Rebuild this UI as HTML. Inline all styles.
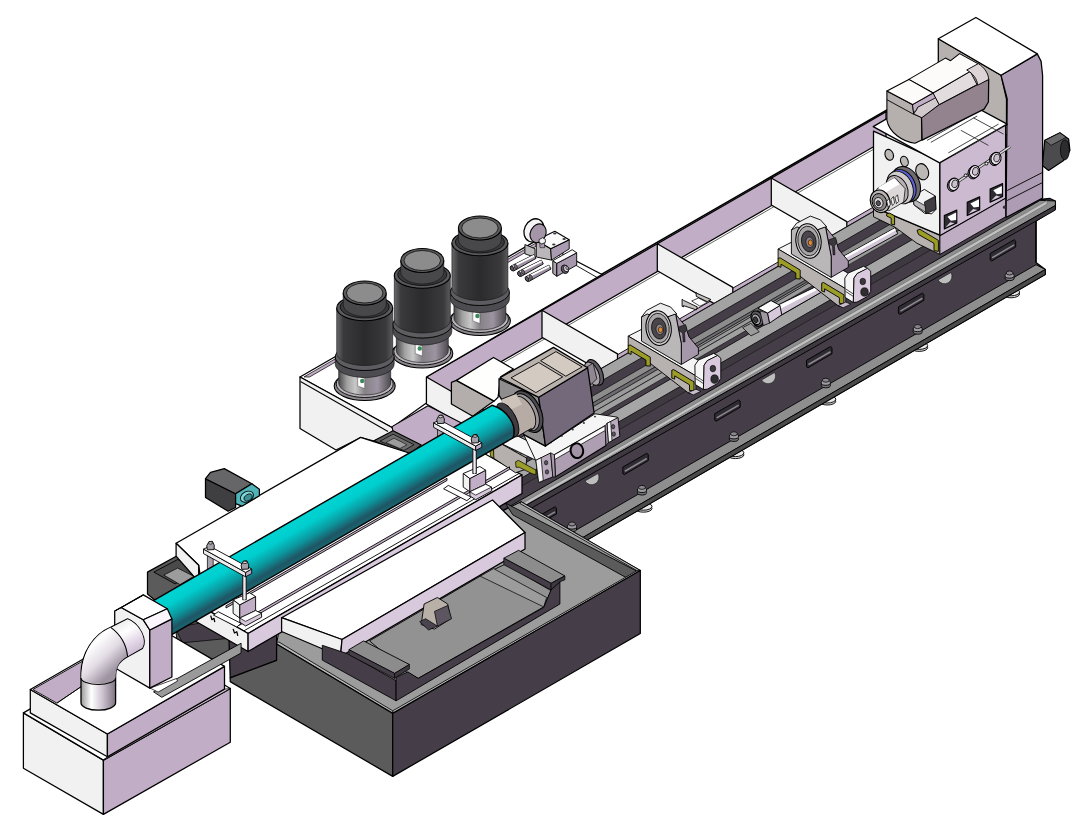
<!DOCTYPE html>
<html><head><meta charset="utf-8"><title></title>
<style>html,body{margin:0;padding:0;background:#fff;overflow:hidden}svg{display:block}</style></head>
<body><svg width="1084" height="830" viewBox="0 0 1084 830" stroke-linejoin="round">
<defs>
<linearGradient id="teal" gradientUnits="userSpaceOnUse" x1="300" y1="516.1" x2="319.3" y2="549.5">
<stop offset="0" stop-color="#00d3d3"/><stop offset="0.28" stop-color="#00cece"/><stop offset="0.6" stop-color="#0b979e"/><stop offset="0.86" stop-color="#1f5564"/><stop offset="1" stop-color="#176872"/></linearGradient>
<linearGradient id="mbody" x1="0" y1="0" x2="1" y2="0">
<stop offset="0" stop-color="#6a696c"/><stop offset="0.12" stop-color="#3a393c"/><stop offset="0.5" stop-color="#2b2a2d"/><stop offset="0.88" stop-color="#3a393c"/><stop offset="1" stop-color="#5c5b5e"/></linearGradient>
<linearGradient id="mbell" x1="0" y1="0" x2="1" y2="0">
<stop offset="0" stop-color="#4a4a4c"/><stop offset="0.16" stop-color="#a0a0a0"/><stop offset="0.32" stop-color="#c8c8c8"/><stop offset="0.5" stop-color="#858187"/><stop offset="0.75" stop-color="#9d94a1"/><stop offset="1" stop-color="#4d4a50"/></linearGradient>
<linearGradient id="pipe" x1="0" y1="0" x2="1" y2="0">
<stop offset="0" stop-color="#9a9a9a"/><stop offset="0.3" stop-color="#ffffff"/><stop offset="0.62" stop-color="#cdc3d0"/><stop offset="1" stop-color="#7d7382"/></linearGradient>
<linearGradient id="pipeV" gradientUnits="userSpaceOnUse" x1="81.0" y1="0" x2="115.6" y2="0">
<stop offset="0" stop-color="#9a9a9a"/><stop offset="0.3" stop-color="#ffffff"/><stop offset="0.62" stop-color="#cdc3d0"/><stop offset="1" stop-color="#7d7382"/></linearGradient>
<linearGradient id="pipeE" gradientUnits="userSpaceOnUse" x1="86.1" y1="630.9" x2="119.3" y2="665.9">
<stop offset="0" stop-color="#b5b5b5"/><stop offset="0.3" stop-color="#ffffff"/><stop offset="0.65" stop-color="#e2dbe4"/><stop offset="1" stop-color="#9d93a1"/></linearGradient>
<linearGradient id="pipeH" gradientUnits="userSpaceOnUse" x1="121.2" y1="622.6" x2="137.8" y2="651.2">
<stop offset="0" stop-color="#eeeeee"/><stop offset="0.3" stop-color="#ffffff"/><stop offset="0.7" stop-color="#e3d6e7"/><stop offset="1" stop-color="#cdbcd2"/></linearGradient>
</defs>
<polygon points="426.4,377.0 900.0,103.8 900.0,195.7 501.0,421.9" fill="#ffffff"  />
<polygon points="426.4,377.0 900.0,103.8 900.0,131.5 446.4,393.2" fill="#c1adc5" stroke="#000" stroke-width="1.26" />
<polyline points="425.4,375.8 900.0,102.5" fill="none" stroke="#000" stroke-width="1.62" />
<polyline points="466.4,384.1 900.0,134.0" fill="none" stroke="#555" stroke-width="0.9" />
<polygon points="501.0,421.9 900.0,191.7 900.0,197.1 501.0,427.3" fill="#c1adc5" stroke="#000" stroke-width="0.9" />
<polygon points="542.0,310.3 617.5,353.9 617.5,380.9 542.0,337.3" fill="#f1f1f1" stroke="#000" stroke-width="1.26" />
<polygon points="657.3,243.8 732.8,287.4 732.8,314.4 657.3,270.8" fill="#f1f1f1" stroke="#000" stroke-width="1.26" />
<polygon points="771.3,178.0 846.8,221.6 846.8,248.6 771.3,205.0" fill="#f1f1f1" stroke="#000" stroke-width="1.26" />
<polygon points="886.0,111.8 961.5,155.4 961.5,182.4 886.0,138.8" fill="#f1f1f1" stroke="#000" stroke-width="1.26" />
<polygon points="426.4,377.0 501.4,420.3 501.4,447.3 426.4,404.0" fill="#f1f1f1" stroke="#000" stroke-width="1.26" />
<polygon points="691.7,301.0 698.4,298.0 707.2,302.5 699.9,306.2" fill="#ffffff" stroke="#000" stroke-width="0.72" />
<polygon points="682.1,299.2 683.6,300.4 697.3,306.9 696.3,309.9 683.5,305.6 683.5,306.9 682.1,306.3" fill="#c4c0be" stroke="#000" stroke-width="0.9" />
<polygon points="696.0,292.5 697.3,293.5 710.9,299.5 707.2,301.7 696.3,296.4" fill="#c4c0be" stroke="#000" stroke-width="0.9" />
<polygon points="300.0,377.0 536.7,240.4 602.0,274.5 426.4,377.0 426.4,403.0 392.0,427.5" fill="#ffffff" stroke="#000" stroke-width="1.26" />
<polygon points="304.0,376.9 536.0,243.0 536.0,246.3 309.5,377.0" fill="#c1adc5" stroke="#000" stroke-width="0.72" />
<polyline points="538.0,243.5 598.0,278.0" fill="none" stroke="#000" stroke-width="0.9" />
<polygon points="300.0,377.0 392.0,427.5 394.0,432.0 374.0,441.0 361.0,437.5 336.0,450.0 300.0,428.5" fill="#f1f1f1" stroke="#000" stroke-width="1.26" />
<polyline points="300.5,381.5 388.0,431.5" fill="none" stroke="#000" stroke-width="1.08" />
<polygon points="392.0,426.6 428.0,405.8 475.0,430.0 421.3,447.0 393.0,431.0" fill="#c1adc5" stroke="#000" stroke-width="1.08" />
<polygon points="373.9,440.7 393.0,430.7 421.3,444.9 408.8,455.0" fill="#5b5b5b" stroke="#000" stroke-width="1.08" />
<polygon points="380.0,441.2 393.0,434.2 414.0,444.7 404.0,450.5" fill="#6f6f6f" stroke="#000" stroke-width="0.72" />
<polygon points="386.0,442.5 394.0,438.2 407.0,444.7 400.0,448.5" fill="#9c9c9c" stroke="#000" stroke-width="0.54" />
<ellipse cx="1011.1" cy="294.0" rx="8.5" ry="3.8" fill="#cfcfcf" stroke="#000" stroke-width="0.9" />
<ellipse cx="1011.1" cy="292.0" rx="8.5" ry="3.8" fill="#e9e9e9" stroke="#000" stroke-width="0.9" />
<ellipse cx="919.2" cy="347.6" rx="8.5" ry="3.8" fill="#cfcfcf" stroke="#000" stroke-width="0.9" />
<ellipse cx="919.2" cy="345.6" rx="8.5" ry="3.8" fill="#e9e9e9" stroke="#000" stroke-width="0.9" />
<ellipse cx="827.3" cy="401.2" rx="8.5" ry="3.8" fill="#cfcfcf" stroke="#000" stroke-width="0.9" />
<ellipse cx="827.3" cy="399.2" rx="8.5" ry="3.8" fill="#e9e9e9" stroke="#000" stroke-width="0.9" />
<ellipse cx="735.4" cy="454.8" rx="8.5" ry="3.8" fill="#cfcfcf" stroke="#000" stroke-width="0.9" />
<ellipse cx="735.4" cy="452.8" rx="8.5" ry="3.8" fill="#e9e9e9" stroke="#000" stroke-width="0.9" />
<ellipse cx="643.5" cy="508.4" rx="8.5" ry="3.8" fill="#cfcfcf" stroke="#000" stroke-width="0.9" />
<ellipse cx="643.5" cy="506.4" rx="8.5" ry="3.8" fill="#e9e9e9" stroke="#000" stroke-width="0.9" />
<ellipse cx="573.5" cy="545.0" rx="8.5" ry="3.8" fill="#cfcfcf" stroke="#000" stroke-width="0.9" />
<ellipse cx="573.5" cy="543.0" rx="8.5" ry="3.8" fill="#e9e9e9" stroke="#000" stroke-width="0.9" />
<polygon points="500.0,427.0 1010.0,132.7 1040.0,199.5 1050.0,198.5 1055.4,201.0 1055.4,209.0 1036.0,221.0 1036.0,262.5 1045.3,269.5 1045.3,274.5 500.0,590.5" fill="#453e48" stroke="#000" stroke-width="1.26" />
<polygon points="500.0,427.0 1010.0,132.7 1010.0,145.2 500.0,439.5" fill="#a3a3a3" stroke="#111" stroke-width="0.9" />
<polygon points="500.0,449.5 1010.0,155.2 1010.0,162.2 500.0,456.5" fill="#8c8c8c" stroke="#111" stroke-width="0.72" />
<polygon points="500.0,456.5 1010.0,162.2 1010.0,166.2 500.0,460.5" fill="#6d6a70" stroke="#111" stroke-width="0.54" />
<polygon points="500.0,460.5 1010.0,166.2 1010.0,171.7 500.0,466.0" fill="#9a9a9a" stroke="#111" stroke-width="0.54" />
<polygon points="500.0,466.0 760.0,316.0 760.0,322.5 500.0,472.5" fill="#a0a0a0" stroke="#111" stroke-width="0.72" />
<polygon points="500.0,477.5 1020.0,177.5 1020.0,190.5 500.0,490.5" fill="#a6a6a6" stroke="#111" stroke-width="0.9" />
<polygon points="500.0,490.5 1020.0,190.5 1020.0,198.5 500.0,498.5" fill="#3e3841" stroke="#111" stroke-width="0.54" />
<polygon points="500.0,512.0 1040.0,200.4 1055.4,201.0 1055.4,205.5 500.0,520.0" fill="#8e8e8e" stroke="#000" stroke-width="0.9" />
<polygon points="500.0,516.3 1047.0,200.7 1047.0,204.1 500.0,519.7" fill="#c2c2c2" stroke="#666" stroke-width="0.54" />
<polygon points="500.0,520.0 1055.4,205.5 1055.4,210.0 500.0,526.0" fill="#3e3841" stroke="#000" stroke-width="0.9" />
<polygon points="500.0,574.0 1036.0,264.7 1045.3,269.5 500.0,585.5" fill="#8e8e8e" stroke="#000" stroke-width="0.9" />
<polygon points="500.0,585.5 1045.3,269.5 1045.3,274.5 500.0,590.5" fill="#4a4a4a" stroke="#000" stroke-width="0.9" />
<polyline points="1036.0,221.0 1036.0,262.5" fill="none" stroke="#000" stroke-width="1.26" />
<polygon points="990.2,253.5 1014.2,239.7 1015.7,241.0 1015.7,247.0 991.7,261.0 990.2,260.0" fill="#2f2b32" stroke="#000" stroke-width="0.9" />
<polyline points="992.2,257.7 1014.2,244.9" fill="none" stroke="#8a8590" stroke-width="1.62" />
<polygon points="898.4,306.9 922.4,293.1 923.9,294.4 923.9,300.4 899.9,314.4 898.4,313.4" fill="#2f2b32" stroke="#000" stroke-width="0.9" />
<polyline points="900.4,311.1 922.4,298.3" fill="none" stroke="#8a8590" stroke-width="1.62" />
<polygon points="806.5,360.3 830.5,346.5 832.0,347.8 832.0,353.8 808.0,367.8 806.5,366.8" fill="#2f2b32" stroke="#000" stroke-width="0.9" />
<polyline points="808.5,364.5 830.5,351.7" fill="none" stroke="#8a8590" stroke-width="1.62" />
<polygon points="714.7,413.7 738.7,399.9 740.2,401.2 740.2,407.2 716.2,421.2 714.7,420.2" fill="#2f2b32" stroke="#000" stroke-width="0.9" />
<polyline points="716.7,417.9 738.7,405.1" fill="none" stroke="#8a8590" stroke-width="1.62" />
<polygon points="622.8,467.1 646.8,453.3 648.3,454.6 648.3,460.6 624.3,474.6 622.8,473.6" fill="#2f2b32" stroke="#000" stroke-width="0.9" />
<polyline points="624.8,471.3 646.8,458.5" fill="none" stroke="#8a8590" stroke-width="1.62" />
<polygon points="531.0,520.5 555.0,506.7 556.5,508.0 556.5,514.0 532.5,528.0 531.0,527.0" fill="#2f2b32" stroke="#000" stroke-width="0.9" />
<polyline points="533.0,524.7 555.0,511.9" fill="none" stroke="#8a8590" stroke-width="1.62" />
<ellipse cx="1009.6" cy="278.0" rx="4.6" ry="2.6" fill="#77737a" stroke="#000" stroke-width="0.9" />
<ellipse cx="1009.6" cy="275.5" rx="4.6" ry="2.6" fill="#a09ca3" stroke="#000" stroke-width="0.9" />
<ellipse cx="1009.6" cy="273.0" rx="3.4" ry="2.0" fill="#8a868d" stroke="#000" stroke-width="0.72" />
<ellipse cx="917.7" cy="331.6" rx="4.6" ry="2.6" fill="#77737a" stroke="#000" stroke-width="0.9" />
<ellipse cx="917.7" cy="329.1" rx="4.6" ry="2.6" fill="#a09ca3" stroke="#000" stroke-width="0.9" />
<ellipse cx="917.7" cy="326.6" rx="3.4" ry="2.0" fill="#8a868d" stroke="#000" stroke-width="0.72" />
<ellipse cx="825.8" cy="385.2" rx="4.6" ry="2.6" fill="#77737a" stroke="#000" stroke-width="0.9" />
<ellipse cx="825.8" cy="382.7" rx="4.6" ry="2.6" fill="#a09ca3" stroke="#000" stroke-width="0.9" />
<ellipse cx="825.8" cy="380.2" rx="3.4" ry="2.0" fill="#8a868d" stroke="#000" stroke-width="0.72" />
<ellipse cx="733.9" cy="438.8" rx="4.6" ry="2.6" fill="#77737a" stroke="#000" stroke-width="0.9" />
<ellipse cx="733.9" cy="436.3" rx="4.6" ry="2.6" fill="#a09ca3" stroke="#000" stroke-width="0.9" />
<ellipse cx="733.9" cy="433.8" rx="3.4" ry="2.0" fill="#8a868d" stroke="#000" stroke-width="0.72" />
<ellipse cx="642.0" cy="492.4" rx="4.6" ry="2.6" fill="#77737a" stroke="#000" stroke-width="0.9" />
<ellipse cx="642.0" cy="489.9" rx="4.6" ry="2.6" fill="#a09ca3" stroke="#000" stroke-width="0.9" />
<ellipse cx="642.0" cy="487.4" rx="3.4" ry="2.0" fill="#8a868d" stroke="#000" stroke-width="0.72" />
<ellipse cx="572.0" cy="529.0" rx="4.6" ry="2.6" fill="#77737a" stroke="#000" stroke-width="0.9" />
<ellipse cx="572.0" cy="526.5" rx="4.6" ry="2.6" fill="#a09ca3" stroke="#000" stroke-width="0.9" />
<ellipse cx="572.0" cy="524.0" rx="3.4" ry="2.0" fill="#8a868d" stroke="#000" stroke-width="0.72" />
<path d="M938.0,280.0 a7,7 0 0 0 13,-7.5 z" fill="#bdbdbd" stroke="#000" stroke-width="0.5"/>
<path d="M761.6,380.0 a7,7 0 0 0 13,-7.5 z" fill="#bdbdbd" stroke="#000" stroke-width="0.5"/>
<path d="M585.0,481.0 a7,7 0 0 0 13,-7.5 z" fill="#bdbdbd" stroke="#000" stroke-width="0.5"/>
<polygon points="147.5,572.1 177.6,555.5 205.2,570.1 205.2,590.1 155.0,600.2 147.5,593.9" fill="#5b5b5b" stroke="#000" stroke-width="1.26" />
<polygon points="153.8,572.1 177.6,559.5 198.9,570.6 175.1,583.9" fill="#4a4a4a" stroke="#000" stroke-width="0.9" />
<polygon points="163.8,575.1 177.6,568.1 193.9,576.3 180.1,584.6" fill="#9c9c9c" stroke="#000" stroke-width="0.72" />
<polygon points="175.1,625.2 222.7,615.2 240.3,622.7 240.3,645.3 200.2,665.3 177.6,645.3" fill="#5b5b5b" stroke="#000" stroke-width="0.9" />
<polygon points="175.1,627.7 215.2,620.2 230.2,638.2 182.6,642.8" fill="#453e48" stroke="#000" stroke-width="0.72" />
<polygon points="229.0,640.3 276.6,635.2 276.6,660.3 230.2,677.8" fill="#453e48" stroke="#000" stroke-width="1.26" />
<polygon points="276.6,644.0 280.4,622.7 521.0,501.7 640.3,570.5 392.7,713.4" fill="#9c9c9c" stroke="#000" stroke-width="1.08" />
<polygon points="505.3,503.0 638.7,572.1 625.8,577.4 512.7,514.8" fill="#5b5b5b" stroke="#000" stroke-width="0.9" />
<polygon points="392.7,713.4 640.3,570.5 637.1,570.7 392.7,710.8" fill="#b9b9b9" stroke="#000" stroke-width="0.81" />
<polygon points="276.6,644.0 392.7,713.4 392.7,710.8 278.6,641.8" fill="#b9b9b9" stroke="#000" stroke-width="0.81" />
<polygon points="521.0,501.7 640.3,570.5 637.1,570.7 520.0,503.5" fill="#b9b9b9" stroke="#000" stroke-width="0.81" />
<polygon points="276.6,644.0 392.7,713.4 392.7,776.4 230.2,681.6 230.2,677.8 276.6,660.3" fill="#5b5b5b" stroke="#000" stroke-width="1.26" />
<polygon points="392.7,713.4 640.3,570.5 640.3,633.5 392.7,776.4" fill="#453e48" stroke="#000" stroke-width="1.26" />
<polygon points="1044.8,140.4 1059.9,132.8 1068.6,139.1 1069.9,150.4 1063.6,160.4 1048.6,170.4 1042.3,165.4" fill="#4b4b4d" stroke="#000" stroke-width="1.26" />
<polygon points="1044.8,140.4 1059.9,132.8 1066.1,137.3 1051.1,145.4" fill="#6a6a6c" stroke="#000" stroke-width="0.72" />
<ellipse cx="1064.9" cy="149.9" rx="4.5" ry="10.0" fill="#2c2c2e" stroke="#000" stroke-width="0.72" />
<polygon points="938.3,38.8 1001.0,75.2 1006.5,99.0 1006.5,125.3 973.4,110.3 938.3,75.2" fill="#b6b1af" stroke="#000" stroke-width="1.26" />
<polygon points="1001.0,75.2 1037.3,53.9 1041.1,61.4 1042.6,75.2 1042.6,198.0 1006.0,217.5 1007.2,99.0" fill="#ae9bb4" stroke="#000" stroke-width="1.26" />
<polyline points="1007.2,190.5 1042.6,172.4" fill="none" stroke="#000" stroke-width="0.9" />
<polyline points="1007.2,200.5 1042.6,182.5" fill="none" stroke="#000" stroke-width="0.9" />
<polygon points="938.3,38.8 975.9,17.5 1037.3,53.9 1001.0,75.2" fill="#ffffff" stroke="#000" stroke-width="1.26" />
<polygon points="873.5,207.2 939.9,235.2 939.9,254.4 917.0,243.3 894.9,227.1 873.5,216.8" fill="#b7b2b0" stroke="#000" stroke-width="0.9" />
<polygon points="873.5,131.1 939.9,161.4 939.9,235.2 873.5,207.2" fill="#f1f1f1" stroke="#000" stroke-width="1.26" />
<polygon points="939.9,161.4 1005.6,123.5 1005.6,198.3 939.9,235.9" fill="#cbbad0" stroke="#000" stroke-width="1.26" />
<polygon points="939.9,235.9 1005.6,198.3 1005.6,216.8 939.9,254.4" fill="#bfadc4" stroke="#000" stroke-width="0.9" />
<polygon points="873.2,126.6 939.6,87.7 1007.2,124.1 939.6,162.9" fill="#ffffff" stroke="#000" stroke-width="1.26" />
<polyline points="927.0,140.4 973.4,114.0" fill="none" stroke="#333" stroke-width="0.9" />
<polyline points="930.8,142.4 977.2,116.0" fill="none" stroke="#333" stroke-width="0.9" />
<polyline points="948.3,152.9 998.5,124.1" fill="none" stroke="#333" stroke-width="0.9" />
<polyline points="953.4,155.4 1002.2,127.3" fill="none" stroke="#333" stroke-width="0.9" />
<polyline points="960.9,130.3 988.4,145.4" fill="none" stroke="#333" stroke-width="0.9" />
<polyline points="973.4,117.8 1003.5,134.1" fill="none" stroke="#333" stroke-width="0.9" />
<ellipse cx="889.2" cy="154.8" rx="4.1" ry="5.6" fill="#bcb8b6" stroke="#000" stroke-width="1.08" transform="rotate(-20 889.2 154.8)" />
<ellipse cx="904.4" cy="161.4" rx="3.7" ry="5.2" fill="#bcb8b6" stroke="#000" stroke-width="1.08" transform="rotate(-20 904.4 161.4)" />
<ellipse cx="922.2" cy="171.7" rx="6.2" ry="8.3" fill="#bcb8b6" stroke="#000" stroke-width="1.08" transform="rotate(-20 922.2 171.7)" />
<polyline points="953.9,184.3 1010.0,146.6" fill="none" stroke="#222" stroke-width="2.88" />
<polyline points="953.9,184.3 1010.0,146.6" fill="none" stroke="#ddd" stroke-width="1.44" />
<ellipse cx="952.7" cy="185.0" rx="5.3" ry="6.5" fill="#8d8391" stroke="#000" stroke-width="0.9" transform="rotate(15 952.7 185.0)" />
<ellipse cx="953.9" cy="184.3" rx="5.0" ry="6.2" fill="#ece6ee" stroke="#000" stroke-width="1.08" transform="rotate(15 953.9 184.3)" />
<ellipse cx="954.8" cy="183.8" rx="3.0" ry="4.0" fill="#cbbfd0" stroke="#000" stroke-width="0.72" transform="rotate(15 954.8 183.8)" />
<ellipse cx="973.4" cy="172.5" rx="5.3" ry="6.5" fill="#8d8391" stroke="#000" stroke-width="0.9" transform="rotate(15 973.4 172.5)" />
<ellipse cx="974.6" cy="171.7" rx="5.0" ry="6.2" fill="#ece6ee" stroke="#000" stroke-width="1.08" transform="rotate(15 974.6 171.7)" />
<ellipse cx="975.4" cy="171.3" rx="3.0" ry="4.0" fill="#cbbfd0" stroke="#000" stroke-width="0.72" transform="rotate(15 975.4 171.3)" />
<ellipse cx="994.8" cy="159.2" rx="5.3" ry="6.5" fill="#8d8391" stroke="#000" stroke-width="0.9" transform="rotate(15 994.8 159.2)" />
<ellipse cx="996.0" cy="158.5" rx="5.0" ry="6.2" fill="#ece6ee" stroke="#000" stroke-width="1.08" transform="rotate(15 996.0 158.5)" />
<ellipse cx="996.8" cy="158.0" rx="3.0" ry="4.0" fill="#cbbfd0" stroke="#000" stroke-width="0.72" transform="rotate(15 996.8 158.0)" />
<ellipse cx="965.7" cy="175.4" rx="1.5" ry="1.5" fill="#eee" stroke="#000" stroke-width="0.9" />
<ellipse cx="986.4" cy="163.6" rx="1.5" ry="1.5" fill="#eee" stroke="#000" stroke-width="0.9" />
<polygon points="944.3,215.6 956.8,210.0 956.8,223.0 944.3,228.9" fill="#2e2b31" stroke="#000" stroke-width="1.08" />
<polygon points="947.5,216.8 956.1,212.6 956.1,220.0 950.9,220.7" fill="#ffffff"  />
<polygon points="945.5,227.4 950.2,222.2 954.6,223.2" fill="#d8cadc"  />
<polygon points="967.2,202.3 979.7,196.7 979.7,209.7 967.2,215.6" fill="#2e2b31" stroke="#000" stroke-width="1.08" />
<polygon points="970.4,203.5 979.0,199.3 979.0,206.7 973.8,207.5" fill="#ffffff"  />
<polygon points="968.4,214.1 973.1,208.9 977.5,210.0" fill="#d8cadc"  />
<polygon points="990.1,189.0 1002.6,183.4 1002.6,196.4 990.1,202.3" fill="#2e2b31" stroke="#000" stroke-width="1.08" />
<polygon points="993.3,190.2 1001.9,186.1 1001.9,193.4 996.7,194.2" fill="#ffffff"  />
<polygon points="991.2,200.8 996.0,195.6 1000.4,196.7" fill="#d8cadc"  />
<ellipse cx="1004.4" cy="207.2" rx="1.5" ry="1.6" fill="#2e2b31"  />
<polygon points="917.0,230.3 919.9,229.3 938.4,240.4 938.4,251.4 934.0,250.7 934.0,243.3 918.5,234.5" fill="#9c9c28" stroke="#000" stroke-width="0.9" />
<polygon points="886.7,213.8 889.7,213.1 894.6,216.0 894.6,224.9 891.2,224.1 891.2,218.2 886.7,216.0" fill="#9c9c28" stroke="#000" stroke-width="0.9" />
<polygon points="825.5,266.2 894.9,227.8 897.8,233.7 825.5,273.6" fill="#d2c7d6" stroke="#000" stroke-width="0.9" />
<polygon points="825.5,266.6 894.9,228.3 896.0,230.3 825.5,269.3" fill="#ffffff"  />
<polygon points="912.6,196.1 924.4,189.4 935.4,196.1 935.9,209.4 931.8,213.8 924.4,213.1 914.0,204.9" fill="#f2f2f2" stroke="#000" stroke-width="0.9" />
<polygon points="924.4,202.0 935.4,196.1 935.9,209.4 925.8,213.8" fill="#3f3c42" stroke="#000" stroke-width="0.72" />
<polygon points="913.3,199.0 925.1,205.7 925.8,212.3 914.0,204.9" fill="#b9b4b8" stroke="#000" stroke-width="0.72" />
<ellipse cx="905.9" cy="184.3" rx="13.6" ry="18.5" fill="#6f6a6e" stroke="#000" stroke-width="1.08" transform="rotate(-25 905.9 184.3)" />
<ellipse cx="902.5" cy="186.1" rx="12.7" ry="17.4" fill="#5d61d2" stroke="#000" stroke-width="0.9" transform="rotate(-25 902.5 186.1)" />
<ellipse cx="900.0" cy="187.5" rx="12.4" ry="17.1" fill="#cfcacc" stroke="#000" stroke-width="0.9" transform="rotate(-25 900.0 187.5)" />
<ellipse cx="897.1" cy="189.4" rx="10.3" ry="14.5" fill="#b6afb3" stroke="#000" stroke-width="0.9" transform="rotate(-25 897.1 189.4)" />
<polygon points="877.1,188.7 894.9,177.6 905.2,188.7 903.7,202.0 888.9,210.8 871.2,203.5" fill="#dcd8da" stroke="#000" stroke-width="0.72" />
<polygon points="878.6,187.2 894.1,178.1 899.3,184.3 883.0,193.9" fill="#ffffff"  />
<ellipse cx="880.1" cy="201.3" rx="9.7" ry="11.5" fill="#b9b4b2" stroke="#000" stroke-width="1.08" transform="rotate(-20 880.1 201.3)" />
<ellipse cx="879.4" cy="202.0" rx="7.1" ry="8.6" fill="#8e898c" stroke="#000" stroke-width="0.9" transform="rotate(-20 879.4 202.0)" />
<ellipse cx="878.6" cy="202.7" rx="4.4" ry="5.3" fill="#d5d0d2" stroke="#000" stroke-width="0.72" transform="rotate(-20 878.6 202.7)" />
<ellipse cx="878.3" cy="203.2" rx="2.1" ry="2.5" fill="#55505a" stroke="#000" stroke-width="0.72" transform="rotate(-20 878.3 203.2)" />
<polygon points="886.7,201.3 889.2,198.3 890.4,204.9 888.2,207.2" fill="#efefef" stroke="#000" stroke-width="0.72" />
<polygon points="890.9,199.5 893.4,196.5 894.6,203.2 892.3,205.4" fill="#efefef" stroke="#000" stroke-width="0.72" />
<polygon points="895.0,197.7 897.5,194.8 898.7,201.4 896.5,203.6" fill="#efefef" stroke="#000" stroke-width="0.72" />
<path d="M 886.9,91.0 L 886.9,120.1 C 889.2,133.0 903.4,142.0 915.0,143.3 L 921.8,140.1 L 921.8,117.5 L 913.7,113.9 L 912.5,104.6 Z" fill="#b5b0ae" stroke="#000" stroke-width="1.08" />
<polygon points="921.5,117.5 938.9,104.6 977.0,84.6 988.7,79.4 988.4,102.0 984.1,109.1 922.1,140.1" fill="#93838f" stroke="#000" stroke-width="1.26" />
<polygon points="913.7,113.9 916.6,109.7 917.6,107.2 935.7,97.5 939.2,104.6 921.8,117.7" fill="#d2c9cc" stroke="#000" stroke-width="0.9" />
<polygon points="913.7,112.3 912.5,104.6 933.1,93.0 935.7,97.7 917.6,107.2 916.1,110.4" fill="#bfaec4" stroke="#000" stroke-width="0.72" />
<polyline points="886.9,99.7 913.7,114.3" fill="none" stroke="#000" stroke-width="0.9" />
<polygon points="933.1,93.0 970.2,71.4 977.0,84.6 939.2,104.6" fill="#e3dcdf" stroke="#000" stroke-width="0.9" />
<polygon points="908.8,79.4 945.4,58.1 950.6,60.7 959.6,53.6 978.3,63.9 970.2,71.4 933.1,93.0" fill="#fcfbf9" stroke="#000" stroke-width="1.08" />
<polygon points="886.9,91.0 908.8,79.4 933.1,93.0 912.5,104.6" fill="#fcfbf9" stroke="#000" stroke-width="1.08" />
<path d="M 966.7,70.0 L 978.3,63.6 C 984.8,67.8 988.4,73.6 988.7,79.4 L 977.7,85.2 C 977.0,78.7 973.2,73.6 966.7,70.0 Z" fill="#ddd4d8" stroke="#000" stroke-width="0.9" />
<polygon points="176.1,543.3 360.6,437.4 409.0,453.0 480.0,451.0 522.0,475.0 248.1,633.5 205.0,608.6 198.7,565.3" fill="#ffffff" stroke="#000" stroke-width="1.26" />
<polygon points="176.1,543.3 198.7,565.3 198.7,582.0 176.1,556.2" fill="#f1f1f1" stroke="#000" stroke-width="1.26" />
<polygon points="205.0,608.6 248.1,633.5 248.1,651.5 196.0,621.5" fill="#f1f1f1" stroke="#000" stroke-width="1.26" />
<polygon points="248.1,633.5 248.1,651.5 522.0,493.5 522.0,475.0" fill="#d8c9dc" stroke="#000" stroke-width="1.26" />
<polygon points="281.6,617.7 492.5,500.0 525.0,532.5 342.0,639.5" fill="#ffffff" stroke="#000" stroke-width="1.26" />
<polygon points="281.6,617.7 281.6,631.5 340.5,656.5 342.0,639.5" fill="#f1f1f1" stroke="#000" stroke-width="1.26" />
<polygon points="342.0,639.5 340.5,656.5 525.0,549.0 525.0,532.5" fill="#d8c9dc" stroke="#000" stroke-width="1.26" />
<polygon points="322.3,645.3 348.9,654.2 396.1,680.7 396.1,700.8 322.3,660.1" fill="#453e48" stroke="#000" stroke-width="0.9" />
<polygon points="369.5,640.9 480.2,576.2 505.3,564.1 551.1,590.7 543.7,606.9 418.2,678.4 406.4,671.9" fill="#929292" stroke="#000" stroke-width="0.9" />
<polygon points="480.2,576.2 493.5,568.6 546.6,597.5 543.7,606.9" fill="#9c9c9c" stroke="#000" stroke-width="0.72" />
<polygon points="396.1,677.2 407.9,671.9 418.2,678.4 543.7,607.5 551.1,589.8 559.9,581.8 559.9,604.0 396.1,700.8" fill="#453e48" stroke="#000" stroke-width="0.9" />
<polygon points="348.9,649.7 363.6,640.9 409.4,664.5 394.6,673.4" fill="#8c8c8c" stroke="#000" stroke-width="0.9" />
<polygon points="348.9,649.7 394.6,673.4 394.6,678.4 348.9,654.8" fill="#453e48" stroke="#000" stroke-width="0.72" />
<polygon points="394.6,673.4 409.4,664.5 409.4,668.9 396.1,677.2 394.6,678.4" fill="#3d3740" stroke="#000" stroke-width="0.72" />
<polygon points="503.8,558.2 518.6,550.3 564.9,575.9 551.1,583.3" fill="#8c8c8c" stroke="#000" stroke-width="0.9" />
<polygon points="503.8,558.2 551.1,583.3 551.1,589.8 503.8,564.7" fill="#453e48" stroke="#000" stroke-width="0.72" />
<polygon points="551.1,583.3 564.9,575.9 564.9,579.8 559.9,581.8 551.1,589.8" fill="#3d3740" stroke="#000" stroke-width="0.72" />
<polygon points="424.1,604.0 437.4,597.5 447.7,604.0 450.7,618.7 434.5,629.1 421.2,624.6" fill="#b9b0a8" stroke="#000" stroke-width="0.9" />
<polygon points="434.5,611.4 447.7,605.5 451.6,618.7 437.4,626.1" fill="#5d5560" stroke="#000" stroke-width="0.72" />
<polygon points="419.7,621.7 425.6,618.7 437.4,626.1 428.6,630.0" fill="#4a4450" stroke="#000" stroke-width="0.72" />
<ellipse cx="595.0" cy="372.3" rx="7.0" ry="13.8" fill="#5f5a62" stroke="#000" stroke-width="1.08" transform="rotate(-25 595.0 372.3)" />
<ellipse cx="592.2" cy="373.6" rx="6.3" ry="12.5" fill="#a9a2ab" stroke="#000" stroke-width="0.9" transform="rotate(-25 592.2 373.6)" />
<polygon points="585.8,367.7 593.1,363.1 596.8,378.7 590.4,385.2" fill="#8f8792" stroke="#000" stroke-width="0.72" />
<polygon points="451.4,382.4 456.4,380.4 494.1,401.1 487.2,405.7 472.8,416.2 451.4,404.0" fill="#b3aeac" stroke="#000" stroke-width="1.26" />
<polygon points="456.4,380.4 493.5,357.5 513.4,369.0 500.7,376.9 498.1,397.2 494.1,401.1" fill="#fefefc" stroke="#000" stroke-width="1.26" />
<polygon points="493.5,448.9 501.8,444.2 526.7,458.1 525.8,469.2 515.6,472.8 493.5,458.1" fill="#b5b0ae" stroke="#000" stroke-width="0.9" />
<polygon points="500.9,443.3 517.5,435.9 550.7,452.5 535.9,460.3" fill="#f7f7f7" stroke="#000" stroke-width="0.9" />
<polygon points="489.8,450.7 493.5,448.9 493.9,458.1 490.7,456.6" fill="#9c9c28" stroke="#000" stroke-width="0.72" />
<polygon points="515.6,461.8 518.4,460.3 535.9,470.1 535.9,474.7 532.3,473.8 519.3,467.3 516.0,467.3" fill="#9c9c28" stroke="#000" stroke-width="0.72" />
<polygon points="523.9,435.0 545.2,446.1 595.0,413.8 617.1,417.1 618.0,419.3 554.4,455.3 535.9,460.8" fill="#f5f5f5" stroke="#000" stroke-width="0.9" />
<polygon points="554.4,454.8 605.1,425.8 606.1,445.5 555.3,476.9" fill="#ad9eb2" stroke="#000" stroke-width="1.08" />
<polygon points="554.4,454.8 605.1,425.8 605.3,430.4 554.6,459.6" fill="#fafafa" stroke="#000" stroke-width="0.72" />
<polygon points="535.9,460.3 550.7,452.9 552.9,476.9 538.7,482.4" fill="#b9aabd" stroke="#000" stroke-width="0.9" />
<polygon points="535.9,460.3 541.1,457.7 543.3,480.6 538.7,482.4" fill="#f4f4f4" stroke="#000" stroke-width="0.72" />
<polygon points="550.7,452.9 554.4,454.8 555.3,476.9 552.9,476.9" fill="#a99cae" stroke="#000" stroke-width="0.72" />
<polygon points="607.0,423.4 618.0,417.5 619.9,436.3 608.3,442.6" fill="#b9aabd" stroke="#000" stroke-width="0.9" />
<polygon points="607.0,423.4 610.7,421.4 612.0,440.7 608.3,442.6" fill="#f4f4f4" stroke="#000" stroke-width="0.72" />
<polygon points="605.1,425.8 607.0,423.4 608.3,442.6 606.1,445.5" fill="#a99cae" stroke="#000" stroke-width="0.72" />
<ellipse cx="546.1" cy="462.7" rx="1.7" ry="2.2" fill="#5a5560" stroke="#000" stroke-width="0.54" />
<ellipse cx="547.0" cy="471.9" rx="1.7" ry="2.2" fill="#5a5560" stroke="#000" stroke-width="0.54" />
<ellipse cx="613.1" cy="426.7" rx="1.7" ry="2.2" fill="#5a5560" stroke="#000" stroke-width="0.54" />
<ellipse cx="613.8" cy="434.1" rx="1.7" ry="2.2" fill="#5a5560" stroke="#000" stroke-width="0.54" />
<ellipse cx="576.9" cy="450.7" rx="6.3" ry="7.4" fill="#a293a7" stroke="#000" stroke-width="1.98" transform="rotate(-10 576.9 450.7)" />
<ellipse cx="550.7" cy="442.4" rx="1.1" ry="0.9" fill="#444"  />
<ellipse cx="561.8" cy="435.9" rx="1.1" ry="0.9" fill="#444"  />
<ellipse cx="572.8" cy="429.5" rx="1.1" ry="0.9" fill="#444"  />
<ellipse cx="583.9" cy="423.0" rx="1.1" ry="0.9" fill="#444"  />
<ellipse cx="595.0" cy="416.6" rx="1.1" ry="0.9" fill="#444"  />
<polygon points="499.0,378.7 538.7,397.2 545.5,446.1 523.9,434.5 499.0,395.4" fill="#908d8e" stroke="#000" stroke-width="1.26" />
<polygon points="538.7,397.2 587.6,367.7 594.1,412.9 545.5,446.1" fill="#74697a" stroke="#000" stroke-width="1.26" />
<polygon points="500.0,377.8 553.5,347.4 587.6,367.7 538.7,397.2" fill="#b9b1ab" stroke="#000" stroke-width="1.26" />
<polygon points="511.0,377.8 538.7,362.5 562.7,376.9 535.9,392.6" fill="#d3cac2" stroke="#000" stroke-width="0.9" />
<polygon points="540.6,360.7 555.9,351.6 582.1,366.9 565.8,376.2" fill="#d3cac2" stroke="#000" stroke-width="0.9" />
<ellipse cx="527.6" cy="411.6" rx="12.9" ry="22.5" fill="#4d4a50" stroke="#000" stroke-width="1.08" transform="rotate(-27 527.6 411.6)" />
<ellipse cx="526.0" cy="412.3" rx="11.1" ry="19.9" fill="#9a9597" stroke="#000" stroke-width="0.9" transform="rotate(-27 526.0 412.3)" />
<ellipse cx="523.9" cy="413.1" rx="9.6" ry="18.1" fill="#b7aca5" stroke="#000" stroke-width="0.9" transform="rotate(-27 523.9 413.1)" />
<polygon points="500.9,399.4 516.0,393.5 531.7,428.2 516.6,436.9" fill="#b7aca5"  />
<polygon points="501.3,399.4 516.0,393.7 522.1,404.6 507.3,411.0" fill="#cdc3bb"  />
<polyline points="500.9,399.4 516.0,393.5" fill="none" stroke="#000" stroke-width="0.9" />
<polyline points="516.6,436.9 531.7,428.2" fill="none" stroke="#000" stroke-width="0.9" />
<ellipse cx="507.5" cy="419.9" rx="8.7" ry="18.5" fill="#3f3c42" stroke="#000" stroke-width="0.9" transform="rotate(-27 507.5 419.9)" />
<polygon points="226.0,605.8 447.0,478.3 447.0,480.5 226.0,608.0" fill="#c1adc5" stroke="#000" stroke-width="0.9" />
<polygon points="239.5,622.6 509.5,466.8 509.5,469.4 239.5,625.2" fill="#c1adc5" stroke="#000" stroke-width="0.9" />
<polyline points="244.0,630.8 519.0,473.5" fill="none" stroke="#000" stroke-width="0.9" />
<polygon points="207.4,551.6 213.2,551.6 213.2,569.9 207.4,569.9" fill="#a9a2ad" stroke="#000" stroke-width="0.72" />
<polygon points="437.5,425.3 443.3,425.3 443.3,443.6 437.5,443.6" fill="#a9a2ad" stroke="#000" stroke-width="0.72" />
<path d="M150,602.7 L492.0,405.3 C508.3,410.1 517.5,426.7 512.9,437.9 L150,647.2 Z" fill="url(#teal)" stroke="#000" stroke-width="1.44" />
<polygon points="213.5,615.1 218.2,611.7 241.1,623.4 236.8,627.0" fill="#ffffff" stroke="#000" stroke-width="0.9" />
<polyline points="210.7,615.6 211.9,619.7 214.0,618.4 214.8,622.2" fill="none" stroke="#000" stroke-width="1.26" />
<polyline points="233.1,628.9 234.5,633.0 236.8,631.7 237.8,635.8" fill="none" stroke="#000" stroke-width="1.26" />
<polygon points="233.1,599.8 239.8,604.8 239.8,618.1 233.1,613.4" fill="#f1f1f1" stroke="#000" stroke-width="0.9" />
<polygon points="239.8,604.8 255.6,596.5 255.6,610.6 239.8,618.1" fill="#c1adc5" stroke="#000" stroke-width="0.9" />
<polygon points="233.1,599.8 249.7,592.8 255.6,596.5 239.8,604.8" fill="#ffffff" stroke="#000" stroke-width="0.9" />
<polygon points="239.8,618.1 255.6,610.6 261.4,613.4 261.7,617.2 245.6,626.0 239.8,622.2" fill="#d8c9dc" stroke="#000" stroke-width="0.9" />
<polygon points="239.8,618.1 255.6,610.6 261.4,613.4 245.6,621.4" fill="#ffffff" stroke="#000" stroke-width="0.72" />
<polygon points="242.6,569.9 246.4,569.9 246.4,599.8 242.6,599.8" fill="#b5afb8" stroke="#000" stroke-width="0.72" />
<polyline points="244.4,569.9 244.4,599.8" fill="none" stroke="#eee" stroke-width="1.08" />
<polygon points="203.5,549.1 245.6,572.4 245.6,576.8 203.5,553.6" fill="#ececec" stroke="#000" stroke-width="0.9" />
<polygon points="245.6,572.4 251.7,569.0 251.7,573.5 245.6,576.8" fill="#c1adc5" stroke="#000" stroke-width="0.9" />
<polygon points="203.5,549.1 209.9,546.3 251.7,569.0 245.6,572.4" fill="#ffffff" stroke="#000" stroke-width="0.9" />
<polygon points="206.7,545.8 209.0,541.6 212.4,541.3 214.3,545.3 214.0,549.6 207.4,549.9" fill="#a59fa8" stroke="#000" stroke-width="0.9" />
<ellipse cx="210.5" cy="542.9" rx="2.2" ry="1.2" fill="#d8d4da" stroke="#000" stroke-width="0.72" />
<polygon points="241.1,565.2 243.4,561.1 246.8,560.7 248.7,564.7 248.4,569.0 241.8,569.4" fill="#a59fa8" stroke="#000" stroke-width="0.9" />
<ellipse cx="244.9" cy="562.4" rx="2.2" ry="1.2" fill="#d8d4da" stroke="#000" stroke-width="0.72" />
<polygon points="443.6,488.8 448.3,485.4 471.2,497.1 466.9,500.7" fill="#ffffff" stroke="#000" stroke-width="0.9" />
<polygon points="463.2,473.5 469.9,478.5 469.9,491.8 463.2,487.1" fill="#f1f1f1" stroke="#000" stroke-width="0.9" />
<polygon points="469.9,478.5 485.7,470.2 485.7,484.3 469.9,491.8" fill="#c1adc5" stroke="#000" stroke-width="0.9" />
<polygon points="463.2,473.5 479.8,466.5 485.7,470.2 469.9,478.5" fill="#ffffff" stroke="#000" stroke-width="0.9" />
<polygon points="469.9,491.8 485.7,484.3 491.5,487.1 491.8,490.9 475.7,499.7 469.9,495.9" fill="#d8c9dc" stroke="#000" stroke-width="0.9" />
<polygon points="469.9,491.8 485.7,484.3 491.5,487.1 475.7,495.1" fill="#ffffff" stroke="#000" stroke-width="0.72" />
<polygon points="472.7,443.6 476.5,443.6 476.5,473.5 472.7,473.5" fill="#b5afb8" stroke="#000" stroke-width="0.72" />
<polyline points="474.5,443.6 474.5,473.5" fill="none" stroke="#eee" stroke-width="1.08" />
<polygon points="433.6,422.8 475.7,446.1 475.7,450.5 433.6,427.3" fill="#ececec" stroke="#000" stroke-width="0.9" />
<polygon points="475.7,446.1 481.8,442.7 481.8,447.2 475.7,450.5" fill="#c1adc5" stroke="#000" stroke-width="0.9" />
<polygon points="433.6,422.8 440.0,420.0 481.8,442.7 475.7,446.1" fill="#ffffff" stroke="#000" stroke-width="0.9" />
<polygon points="436.8,419.5 439.1,415.3 442.5,415.0 444.4,419.0 444.1,423.3 437.5,423.6" fill="#a59fa8" stroke="#000" stroke-width="0.9" />
<ellipse cx="440.6" cy="416.6" rx="2.2" ry="1.2" fill="#d8d4da" stroke="#000" stroke-width="0.72" />
<polygon points="471.2,438.9 473.5,434.8 476.9,434.4 478.8,438.4 478.5,442.7 471.9,443.1" fill="#a59fa8" stroke="#000" stroke-width="0.9" />
<ellipse cx="475.0" cy="436.1" rx="2.2" ry="1.2" fill="#d8d4da" stroke="#000" stroke-width="0.72" />
<polygon points="23.4,712.9 23.4,768.2 103.4,814.4 103.4,760.1" fill="#f1f1f1" stroke="#000" stroke-width="1.26" />
<polygon points="103.4,760.1 103.4,814.4 230.3,742.2 230.3,688.5" fill="#c1adc5" stroke="#000" stroke-width="1.26" />
<polygon points="23.4,712.9 149.6,639.7 230.3,688.5 103.4,760.1" fill="#ffffff" stroke="#000" stroke-width="1.26" />
<polygon points="103.4,760.1 230.3,688.5 224.5,689.1 107.4,756.8" fill="#d8c9dc" stroke="#000" stroke-width="0.72" />
<polygon points="30.3,689.5 30.3,712.9 107.4,756.8 107.4,734.0" fill="#f1f1f1" stroke="#000" stroke-width="1.26" />
<polygon points="107.4,734.0 107.4,756.8 224.5,689.1 224.5,666.4" fill="#c1adc5" stroke="#000" stroke-width="1.26" />
<polygon points="30.3,689.5 148.0,621.8 224.5,666.4 107.4,734.0" fill="#ffffff" stroke="#000" stroke-width="1.26" />
<polygon points="32.9,689.5 148.0,623.8 148.0,641.3 56.9,703.1" fill="#c1adc5" stroke="#000" stroke-width="0.9" />
<polyline points="56.9,703.1 148.0,641.3" fill="none" stroke="#000" stroke-width="0.9" />
<polygon points="153.5,691.8 176.5,678.9 241.1,643.2 241.1,653.0 161.8,697.3" fill="#9a9a9a" stroke="#000" stroke-width="0.9" />
<polygon points="150.1,688.1 176.5,678.5 177.5,681.1 158.1,692.1" fill="#ffffff" stroke="#000" stroke-width="0.72" />
<polygon points="114.7,611.0 121.2,607.5 143.3,619.8 149.8,630.0 149.8,688.1 114.7,667.8" fill="#f1f1f1" stroke="#000" stroke-width="1.26" />
<polygon points="149.8,630.0 171.9,618.9 171.9,677.0 149.8,688.1" fill="#c1adc5" stroke="#000" stroke-width="1.26" />
<polygon points="121.2,607.5 143.3,594.9 167.3,608.7 143.3,619.8" fill="#ffffff" stroke="#000" stroke-width="1.26" />
<polygon points="143.3,619.8 167.3,608.7 171.9,618.9 149.8,630.0" fill="#faf6fb" stroke="#000" stroke-width="1.26" />
<polygon points="114.7,611.0 136.9,598.6 143.3,594.9 121.2,607.5" fill="#ffffff" stroke="#000" stroke-width="0.9" />
<path d="M81.0,702.8 L81.0,673.3 C81.5,653.0 93.5,634.6 111.0,627.2 L127.6,618.9 C139.6,623.5 147.9,640.1 142.4,648.4 L127.6,656.7 C119.3,661.3 116.0,665.9 115.6,675.2 L115.6,702.8 A17.3,7.4 0 0 1 81.0,702.8 Z" fill="url(#pipeV)" stroke="#000" stroke-width="1.3"/>
<path d="M81.3,677.9 C81.5,653.0 93.5,634.6 111.0,627.6 Q125.8,638.3 127.6,656.3 C119.3,661.3 116.0,665.9 115.5,677.9 A17.3,6.6 0 0 1 81.3,677.9 Z" fill="url(#pipeE)"/>
<path d="M111.4,627.4 L127.6,619.3 C139.6,623.9 147.6,640.1 142.2,648.0 L127.8,656.3 Q125.8,638.3 111.4,627.4 Z" fill="url(#pipeH)"/>
<path d="M81.0,677.9 A17.3,6.6 0 0 0 115.6,677.9" fill="none" stroke="#000" stroke-width="1.1"/>
<path d="M111.0,627.6 Q125.8,638.3 127.6,656.7" fill="none" stroke="#000" stroke-width="1.1"/>
<ellipse cx="479.9" cy="321.0" rx="30.5" ry="14.5" fill="#8a868c" stroke="#000" stroke-width="1.08" />
<ellipse cx="479.9" cy="319.0" rx="28.5" ry="13.5" fill="#b9b4bb" stroke="#000" stroke-width="0.9" />
<path d="M453.9,298.0 L453.9,318.0 A26.0,12.0 0 0 0 505.9,318.0 L505.9,298.0 A26.0,12.0 0 0 1 453.9,298.0 Z" fill="url(#mbell)" stroke="#111" stroke-width="0.6"/>
<path d="M472.9,311.0 l0,10 l7,2.5 l0,-10 z" fill="#fff" stroke="#333" stroke-width="0.4"/>
<circle cx="477.4" cy="316.0" r="2.2" fill="#3c8a5a"/>
<path d="M450.4,292.0 L450.4,299.0 A29.5,13.5 0 0 0 509.4,299.0 L509.4,292.0 A29.5,13.5 0 0 1 450.4,292.0 Z" fill="#4d4c50" stroke="#111" stroke-width="0.6"/>
<ellipse cx="479.9" cy="292.0" rx="29.5" ry="13.5" fill="#5d5c60" stroke="#000" stroke-width="0.9" />
<path d="M451.9,243.0 L451.9,288.0 A28.0,12.5 0 0 0 507.9,288.0 L507.9,243.0 A28.0,12.5 0 0 1 451.9,243.0 Z" fill="url(#mbody)" stroke="#111" stroke-width="0.6"/>
<ellipse cx="479.9" cy="243.0" rx="28.0" ry="12.8" fill="#5a595c" stroke="#000" stroke-width="1.08" />
<ellipse cx="479.9" cy="242.0" rx="24.5" ry="11.0" fill="#39383b" stroke="#000" stroke-width="0.72" />
<path d="M458.4,228.0 L458.4,239.5 A21.5,12.0 0 0 0 501.4,239.5 L501.4,228.0 A21.5,12.0 0 0 1 458.4,228.0 Z" fill="#48474a" stroke="#111" stroke-width="0.6"/>
<ellipse cx="479.9" cy="228.0" rx="21.5" ry="12.0" fill="#5c5b5e" stroke="#000" stroke-width="1.08" />
<ellipse cx="479.9" cy="228.0" rx="18.3" ry="10.0" fill="#8c8c8c" stroke="#000" stroke-width="0.72" />
<ellipse cx="422.3" cy="353.5" rx="30.5" ry="14.5" fill="#8a868c" stroke="#000" stroke-width="1.08" />
<ellipse cx="422.3" cy="351.5" rx="28.5" ry="13.5" fill="#b9b4bb" stroke="#000" stroke-width="0.9" />
<path d="M396.3,330.5 L396.3,350.5 A26.0,12.0 0 0 0 448.3,350.5 L448.3,330.5 A26.0,12.0 0 0 1 396.3,330.5 Z" fill="url(#mbell)" stroke="#111" stroke-width="0.6"/>
<path d="M415.3,343.5 l0,10 l7,2.5 l0,-10 z" fill="#fff" stroke="#333" stroke-width="0.4"/>
<circle cx="419.8" cy="348.5" r="2.2" fill="#3c8a5a"/>
<path d="M392.8,324.5 L392.8,331.5 A29.5,13.5 0 0 0 451.8,331.5 L451.8,324.5 A29.5,13.5 0 0 1 392.8,324.5 Z" fill="#4d4c50" stroke="#111" stroke-width="0.6"/>
<ellipse cx="422.3" cy="324.5" rx="29.5" ry="13.5" fill="#5d5c60" stroke="#000" stroke-width="0.9" />
<path d="M394.3,275.5 L394.3,320.5 A28.0,12.5 0 0 0 450.3,320.5 L450.3,275.5 A28.0,12.5 0 0 1 394.3,275.5 Z" fill="url(#mbody)" stroke="#111" stroke-width="0.6"/>
<ellipse cx="422.3" cy="275.5" rx="28.0" ry="12.8" fill="#5a595c" stroke="#000" stroke-width="1.08" />
<ellipse cx="422.3" cy="274.5" rx="24.5" ry="11.0" fill="#39383b" stroke="#000" stroke-width="0.72" />
<path d="M400.8,260.5 L400.8,272.0 A21.5,12.0 0 0 0 443.8,272.0 L443.8,260.5 A21.5,12.0 0 0 1 400.8,260.5 Z" fill="#48474a" stroke="#111" stroke-width="0.6"/>
<ellipse cx="422.3" cy="260.5" rx="21.5" ry="12.0" fill="#5c5b5e" stroke="#000" stroke-width="1.08" />
<ellipse cx="422.3" cy="260.5" rx="18.3" ry="10.0" fill="#8c8c8c" stroke="#000" stroke-width="0.72" />
<ellipse cx="364.7" cy="386.0" rx="30.5" ry="14.5" fill="#8a868c" stroke="#000" stroke-width="1.08" />
<ellipse cx="364.7" cy="384.0" rx="28.5" ry="13.5" fill="#b9b4bb" stroke="#000" stroke-width="0.9" />
<path d="M338.7,363.0 L338.7,383.0 A26.0,12.0 0 0 0 390.7,383.0 L390.7,363.0 A26.0,12.0 0 0 1 338.7,363.0 Z" fill="url(#mbell)" stroke="#111" stroke-width="0.6"/>
<path d="M357.7,376.0 l0,10 l7,2.5 l0,-10 z" fill="#fff" stroke="#333" stroke-width="0.4"/>
<circle cx="362.2" cy="381.0" r="2.2" fill="#3c8a5a"/>
<path d="M335.2,357.0 L335.2,364.0 A29.5,13.5 0 0 0 394.2,364.0 L394.2,357.0 A29.5,13.5 0 0 1 335.2,357.0 Z" fill="#4d4c50" stroke="#111" stroke-width="0.6"/>
<ellipse cx="364.7" cy="357.0" rx="29.5" ry="13.5" fill="#5d5c60" stroke="#000" stroke-width="0.9" />
<path d="M336.7,308.0 L336.7,353.0 A28.0,12.5 0 0 0 392.7,353.0 L392.7,308.0 A28.0,12.5 0 0 1 336.7,308.0 Z" fill="url(#mbody)" stroke="#111" stroke-width="0.6"/>
<ellipse cx="364.7" cy="308.0" rx="28.0" ry="12.8" fill="#5a595c" stroke="#000" stroke-width="1.08" />
<ellipse cx="364.7" cy="307.0" rx="24.5" ry="11.0" fill="#39383b" stroke="#000" stroke-width="0.72" />
<path d="M343.2,293.0 L343.2,304.5 A21.5,12.0 0 0 0 386.2,304.5 L386.2,293.0 A21.5,12.0 0 0 1 343.2,293.0 Z" fill="#48474a" stroke="#111" stroke-width="0.6"/>
<ellipse cx="364.7" cy="293.0" rx="21.5" ry="12.0" fill="#5c5b5e" stroke="#000" stroke-width="1.08" />
<ellipse cx="364.7" cy="293.0" rx="18.3" ry="10.0" fill="#8c8c8c" stroke="#000" stroke-width="0.72" />
<polygon points="524.9,244.6 535.0,248.7 535.0,257.3 524.9,253.8" fill="#bdbabc" stroke="#000" stroke-width="0.9" />
<polygon points="536.3,240.2 550.7,248.7 551.5,260.1 536.3,257.0" fill="#bab6b9" stroke="#000" stroke-width="0.9" />
<polygon points="550.7,248.7 569.2,239.8 569.2,248.9 551.5,260.1" fill="#ab9bb0" stroke="#000" stroke-width="0.9" />
<polygon points="536.3,240.2 554.8,231.3 569.2,239.8 550.7,248.7" fill="#fafafa" stroke="#000" stroke-width="1.08" />
<ellipse cx="554.8" cy="233.5" rx="1.7" ry="1.0" fill="#3a383c"  />
<ellipse cx="564.1" cy="239.1" rx="1.7" ry="1.0" fill="#3a383c"  />
<ellipse cx="553.8" cy="244.6" rx="1.7" ry="1.0" fill="#3a383c"  />
<polygon points="552.8,260.7 556.8,263.4 556.8,276.3 552.8,273.3" fill="#aaa5aa" stroke="#000" stroke-width="0.9" />
<polygon points="556.8,263.4 576.7,252.8 576.7,265.1 556.8,276.3" fill="#a797ac" stroke="#000" stroke-width="0.9" />
<polygon points="552.8,260.7 572.2,249.7 576.7,252.8 556.8,263.4" fill="#fafafa" stroke="#000" stroke-width="0.9" />
<ellipse cx="564.9" cy="269.2" rx="3.5" ry="4.3" fill="#5e5763" stroke="#000" stroke-width="0.9" transform="rotate(-25 564.9 269.2)" />
<ellipse cx="566.2" cy="268.6" rx="2.4" ry="3.2" fill="#e6e0e8" stroke="#000" stroke-width="0.72" transform="rotate(-25 566.2 268.6)" />
<ellipse cx="567.2" cy="268.1" rx="1.3" ry="1.8" fill="#a99caf" stroke="#000" stroke-width="0.54" transform="rotate(-25 567.2 268.1)" />
<ellipse cx="534.0" cy="230.4" rx="9.6" ry="12.0" fill="#f4f4f4" stroke="#000" stroke-width="1.26" transform="rotate(25 534.0 230.4)" />
<ellipse cx="538.1" cy="233.3" rx="7.7" ry="9.7" fill="#a495a9" stroke="#000" stroke-width="1.08" transform="rotate(25 538.1 233.3)" />
<polygon points="539.1,239.6 542.6,237.7 545.4,239.4 545.4,242.4 541.8,244.2 539.1,242.4" fill="#f2f2f2" stroke="#000" stroke-width="0.72" />
<polygon points="539.6,242.6 541.8,244.2 544.6,242.8 544.6,247.7 540.1,247.7" fill="#a99caf" stroke="#000" stroke-width="0.54" />
<polygon points="511.2,266.0 534.0,254.6 536.0,258.4 513.7,271.0 510.7,269.3" fill="#9d8fa2" stroke="#000" stroke-width="0.9" />
<polygon points="512.0,265.8 534.0,254.8 534.7,256.4 512.8,267.6" fill="#ffffff"  />
<ellipse cx="512.0" cy="268.4" rx="1.6" ry="2.6" fill="#5e5763" stroke="#000" stroke-width="0.72" transform="rotate(-25 512.0 268.4)" />
<ellipse cx="515.7" cy="266.6" rx="1.5" ry="2.5" fill="#6d6672" stroke="#000" stroke-width="0.54" transform="rotate(-25 515.7 266.6)" />
<polygon points="518.5,271.4 541.3,260.1 543.3,263.9 521.0,276.5 518.0,274.8" fill="#9d8fa2" stroke="#000" stroke-width="0.9" />
<polygon points="519.3,271.2 541.3,260.3 542.0,261.9 520.1,273.1" fill="#ffffff"  />
<ellipse cx="519.3" cy="273.9" rx="1.6" ry="2.6" fill="#5e5763" stroke="#000" stroke-width="0.72" transform="rotate(-25 519.3 273.9)" />
<ellipse cx="523.0" cy="272.0" rx="1.5" ry="2.5" fill="#6d6672" stroke="#000" stroke-width="0.54" transform="rotate(-25 523.0 272.0)" />
<polygon points="526.2,276.5 549.0,265.1 551.0,269.0 528.7,281.6 525.7,279.9" fill="#9d8fa2" stroke="#000" stroke-width="0.9" />
<polygon points="527.0,276.3 549.0,265.3 549.7,267.0 527.8,278.1" fill="#ffffff"  />
<ellipse cx="527.0" cy="278.9" rx="1.6" ry="2.6" fill="#5e5763" stroke="#000" stroke-width="0.72" transform="rotate(-25 527.0 278.9)" />
<ellipse cx="530.7" cy="277.1" rx="1.5" ry="2.5" fill="#6d6672" stroke="#000" stroke-width="0.54" transform="rotate(-25 530.7 277.1)" />
<polygon points="205.5,478.7 205.5,497.5 228.1,511.2 235.6,507.5 235.6,493.7" fill="#3f3f41" stroke="#000" stroke-width="1.26" />
<polygon points="205.5,478.7 210.5,472.4 224.3,468.6 251.9,483.7 235.6,493.7" fill="#666668" stroke="#000" stroke-width="1.26" />
<polygon points="235.6,493.7 251.9,483.7 259.4,489.2 259.4,495.7 241.9,506.2 235.6,503.7" fill="#4fb3b8" stroke="#000" stroke-width="1.26" />
<ellipse cx="246.9" cy="496.7" rx="7.0" ry="5.0" fill="#7fd6d8" stroke="#000" stroke-width="0.9" transform="rotate(-30 246.9 496.7)" />
<ellipse cx="248.1" cy="497.5" rx="4.5" ry="3.0" fill="#3a8f95" stroke="#000" stroke-width="0.72" transform="rotate(-30 248.1 497.5)" />
<polygon points="695.5,347.0 809.1,280.7 810.2,282.1 696.6,348.6" fill="#8d8d8d" stroke="#000" stroke-width="0.72" />
<polygon points="742.6,327.6 750.9,323.4 759.3,331.7 750.9,335.9" fill="#9b9b9b" stroke="#000" stroke-width="0.72" />
<polygon points="778.6,304.7 820.2,284.6 822.3,291.6 781.7,314.8" fill="#cfc4d3" stroke="#000" stroke-width="0.9" />
<polygon points="778.9,305.4 820.2,285.3 820.9,288.1 780.0,308.9" fill="#ffffff"  />
<ellipse cx="757.2" cy="318.6" rx="5.8" ry="8.0" fill="#5d5a5f" stroke="#000" stroke-width="1.08" transform="rotate(-25 757.2 318.6)" />
<ellipse cx="756.2" cy="319.3" rx="3.9" ry="5.5" fill="#a8a5aa" stroke="#000" stroke-width="0.9" transform="rotate(-25 756.2 319.3)" />
<ellipse cx="755.7" cy="319.7" rx="2.1" ry="3.0" fill="#3c3a3e" stroke="#000" stroke-width="0.72" transform="rotate(-25 755.7 319.7)" />
<polygon points="759.9,310.9 767.6,313.0 769.6,323.1 763.4,325.5" fill="#9f98a2" stroke="#000" stroke-width="0.72" />
<polygon points="767.6,313.0 780.0,305.4 781.7,314.8 769.6,323.1" fill="#d7c9db" stroke="#000" stroke-width="0.9" />
<polygon points="757.9,308.2 771.0,300.6 780.0,305.4 767.6,313.0" fill="#fafafa" stroke="#000" stroke-width="0.9" />
<polygon points="778.1,249.0 791.4,242.3 858.4,278.7 845.8,288.8" fill="#f4f4f4" stroke="#000" stroke-width="0.9" />
<polygon points="778.1,249.0 845.8,288.8 845.8,305.5 838.8,306.3 778.1,259.1" fill="#b7b2b0" stroke="#000" stroke-width="0.9" />
<polygon points="778.1,258.5 780.0,257.8 800.2,270.1 800.2,279.0 795.8,278.7 795.8,273.0 781.0,264.2 781.0,267.3 778.1,266.3" fill="#9c9c28" stroke="#000" stroke-width="0.9" />
<polygon points="821.7,283.1 823.6,282.5 843.9,294.8 843.9,303.6 839.4,303.4 839.4,297.7 824.6,288.8 824.6,292.0 821.7,291.0" fill="#9c9c28" stroke="#000" stroke-width="0.9" />
<polygon points="831.2,256.6 825.5,226.9 835.6,239.5 838.8,249.6 848.3,261.0 848.3,267.3 831.2,277.4" fill="#a697ab" stroke="#000" stroke-width="0.9" />
<polygon points="791.4,230.0 796.5,223.3 810.4,216.1 820.5,219.9 826.8,226.9 811.6,231.9" fill="#ededed" stroke="#000" stroke-width="0.9" />
<polygon points="791.4,230.0 797.1,226.9 811.6,231.9 825.5,226.9 831.2,256.6 831.2,277.4 791.4,254.0" fill="#bab7b9" stroke="#000" stroke-width="0.9" />
<ellipse cx="808.5" cy="241.0" rx="12.6" ry="17.4" fill="#cdcacc" stroke="#000" stroke-width="1.08" transform="rotate(-8 808.5 241.0)" />
<ellipse cx="808.5" cy="241.0" rx="10.6" ry="14.9" fill="#a9a6a8" stroke="#000" stroke-width="0.72" transform="rotate(-8 808.5 241.0)" />
<ellipse cx="808.8" cy="241.4" rx="7.3" ry="10.6" fill="#4b464b" stroke="#000" stroke-width="0.72" transform="rotate(-8 808.8 241.4)" />
<ellipse cx="809.7" cy="242.3" rx="3.8" ry="5.3" fill="#8d8489" stroke="#000" stroke-width="0.54" transform="rotate(-8 809.7 242.3)" />
<ellipse cx="810.4" cy="242.7" rx="2.1" ry="2.8" fill="#e28b2e" stroke="#000" stroke-width="0.54" />
<polygon points="829.3,239.5 835.6,237.6 836.9,242.7 834.4,245.8 835.0,254.7 833.1,254.9 832.5,245.8 829.3,243.9" fill="#3a383c" stroke="#000" stroke-width="0.54" />
<polygon points="844.8,278.1 848.3,273.0 863.5,266.3 867.9,268.6 857.1,273.6 854.0,278.1 853.3,302.5 845.1,297.4" fill="#f6f6f6" stroke="#000" stroke-width="0.9" />
<polygon points="854.0,278.1 857.1,273.6 867.5,268.3 870.7,271.1 870.7,291.3 867.5,296.4 857.1,302.1 853.3,302.5" fill="#d8cadc" stroke="#000" stroke-width="0.9" />
<polyline points="845.4,288.8 853.3,293.9" fill="none" stroke="#000" stroke-width="0.72" />
<polyline points="845.4,291.3 853.3,296.4" fill="none" stroke="#000" stroke-width="0.72" />
<ellipse cx="862.8" cy="281.5" rx="2.8" ry="3.3" fill="#3a383c" stroke="#000" stroke-width="0.54" />
<ellipse cx="864.5" cy="292.0" rx="3.8" ry="4.3" fill="#2f2d31" stroke="#000" stroke-width="0.54" />
<polygon points="838.2,305.5 845.8,302.1 850.8,304.2 843.2,307.8" fill="#c9bccc" stroke="#000" stroke-width="0.72" />
<polygon points="628.2,336.1 641.5,329.4 708.5,365.8 695.9,375.9" fill="#f4f4f4" stroke="#000" stroke-width="0.9" />
<polygon points="628.2,336.1 695.9,375.9 695.9,392.6 688.9,393.4 628.2,346.2" fill="#b7b2b0" stroke="#000" stroke-width="0.9" />
<polygon points="628.2,345.6 630.1,344.9 650.3,357.2 650.3,366.1 645.9,365.8 645.9,360.1 631.1,351.3 631.1,354.4 628.2,353.4" fill="#9c9c28" stroke="#000" stroke-width="0.9" />
<polygon points="671.8,370.2 673.7,369.6 694.0,381.9 694.0,390.7 689.5,390.5 689.5,384.8 674.7,375.9 674.7,379.1 671.8,378.1" fill="#9c9c28" stroke="#000" stroke-width="0.9" />
<polygon points="681.3,343.7 675.6,314.0 685.7,326.6 688.9,336.7 698.4,348.1 698.4,354.4 681.3,364.5" fill="#a697ab" stroke="#000" stroke-width="0.9" />
<polygon points="641.5,317.1 646.6,310.4 660.5,303.2 670.6,307.0 676.9,314.0 661.7,319.0" fill="#ededed" stroke="#000" stroke-width="0.9" />
<polygon points="641.5,317.1 647.2,314.0 661.7,319.0 675.6,314.0 681.3,343.7 681.3,364.5 641.5,341.1" fill="#bab7b9" stroke="#000" stroke-width="0.9" />
<ellipse cx="658.6" cy="328.1" rx="12.6" ry="17.4" fill="#cdcacc" stroke="#000" stroke-width="1.08" transform="rotate(-8 658.6 328.1)" />
<ellipse cx="658.6" cy="328.1" rx="10.6" ry="14.9" fill="#a9a6a8" stroke="#000" stroke-width="0.72" transform="rotate(-8 658.6 328.1)" />
<ellipse cx="658.9" cy="328.5" rx="7.3" ry="10.6" fill="#4b464b" stroke="#000" stroke-width="0.72" transform="rotate(-8 658.9 328.5)" />
<ellipse cx="659.8" cy="329.4" rx="3.8" ry="5.3" fill="#8d8489" stroke="#000" stroke-width="0.54" transform="rotate(-8 659.8 329.4)" />
<ellipse cx="660.5" cy="329.8" rx="2.1" ry="2.8" fill="#e28b2e" stroke="#000" stroke-width="0.54" />
<polygon points="679.4,326.6 685.7,324.7 687.0,329.8 684.5,332.9 685.1,341.8 683.2,342.0 682.6,332.9 679.4,331.0" fill="#3a383c" stroke="#000" stroke-width="0.54" />
<polygon points="694.9,365.2 698.4,360.1 713.6,353.4 718.0,355.7 707.2,360.7 704.1,365.2 703.4,389.6 695.2,384.5" fill="#f6f6f6" stroke="#000" stroke-width="0.9" />
<polygon points="704.1,365.2 707.2,360.7 717.6,355.4 720.8,358.2 720.8,378.4 717.6,383.5 707.2,389.2 703.4,389.6" fill="#d8cadc" stroke="#000" stroke-width="0.9" />
<polyline points="695.5,375.9 703.4,381.0" fill="none" stroke="#000" stroke-width="0.72" />
<polyline points="695.5,378.4 703.4,383.5" fill="none" stroke="#000" stroke-width="0.72" />
<ellipse cx="712.9" cy="368.6" rx="2.8" ry="3.3" fill="#3a383c" stroke="#000" stroke-width="0.54" />
<ellipse cx="714.6" cy="379.1" rx="3.8" ry="4.3" fill="#2f2d31" stroke="#000" stroke-width="0.54" />
<polygon points="688.3,392.6 695.9,389.2 700.9,391.3 693.3,394.9" fill="#c9bccc" stroke="#000" stroke-width="0.72" />
</svg></body></html>
